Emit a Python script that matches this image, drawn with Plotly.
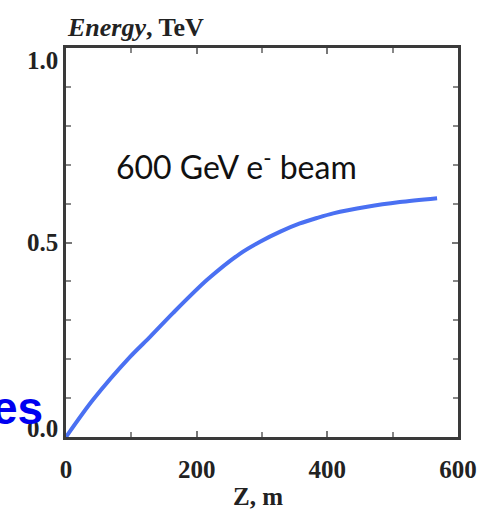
import plotly.graph_objects as go

# Data
z_m = [0, 41, 98, 129, 164, 216, 266, 297, 328, 358, 384, 409, 461, 511, 568]
energy_tev = [0.0, 0.095, 0.206, 0.258, 0.319, 0.404, 0.471, 0.502, 0.528, 0.549, 0.563, 0.575, 0.592, 0.604, 0.614]

x_tickvals = [0, 200, 400, 600]
x_ticktext = ["0", "200", "400", "600"]
y_tickvals = [0.0, 0.5, 1.0]
y_ticktext = ["0.0", "0.5", "1.0"]
y_label_shift = [9, 0, -12]

axis_color = "#3a3a3a"
serif = "Liberation Serif"

fig = go.Figure()
fig.add_trace(go.Scatter(
    x=z_m, y=energy_tev, mode="lines",
    line=dict(color="#4a70f2", width=4, shape="spline", smoothing=0.8),
    hoverinfo="skip", showlegend=False,
))

common_axis = dict(
    showgrid=False, zeroline=False, showline=True, linecolor=axis_color, linewidth=3,
    mirror="allticks", ticks="inside", ticklen=6, tickwidth=1.5, tickcolor="#777",
    tickfont=dict(family=serif, size=25, color="#222", weight="bold"),
)

fig.update_xaxes(range=[0, 600], tickvals=x_tickvals, ticktext=x_ticktext,
                 minor=dict(dtick=100, ticks="inside", ticklen=5, tickcolor="#888"),
                 ticklabelstandoff=8, **common_axis)
fig.update_yaxes(range=[0, 1.0], tickvals=y_tickvals, showticklabels=False,
                 minor=dict(dtick=0.1, ticks="inside", ticklen=5, tickcolor="#888"),
                 **common_axis)

for val, txt, sh in zip(y_tickvals, y_ticktext, y_label_shift):
    fig.add_annotation(xref="paper", yref="y", x=0, y=val, xanchor="right", yanchor="middle",
                       xshift=-6, yshift=sh, text=txt, showarrow=False,
                       font=dict(family=serif, size=25, color="#222", weight="bold"))

fig.add_annotation(xref="paper", yref="paper", x=-0.002, y=1.052, xanchor="left", yanchor="middle",
                   text="<i>Energy</i>, TeV", showarrow=False,
                   font=dict(family=serif, size=26, color="#222", weight="bold"))
fig.add_annotation(xref="paper", yref="paper", x=0.49, y=-0.154, xanchor="center", yanchor="middle",
                   text="Z, m", showarrow=False,
                   font=dict(family=serif, size=25, color="#222", weight="bold"))
fig.add_annotation(xref="paper", yref="paper", x=0.434, y=0.70, xanchor="center", yanchor="middle",
                   text="600 GeV e<sup>-</sup> beam", showarrow=False,
                   font=dict(family="Lato", size=32, color="#111"))
fig.add_annotation(xref="paper", yref="paper", x=-0.054, y=0.075, xanchor="right", yanchor="middle",
                   text="es", showarrow=False,
                   font=dict(family="Liberation Sans", size=46, color="#0000f0", weight="bold"))

fig.update_layout(
    width=488, height=512,
    margin=dict(l=66, r=30, t=48, b=75),
    paper_bgcolor="white", plot_bgcolor="white",
)

fig.write_html("out.html", config={"displayModeBar": False},
               post_script="document.body.style.margin='0';")
